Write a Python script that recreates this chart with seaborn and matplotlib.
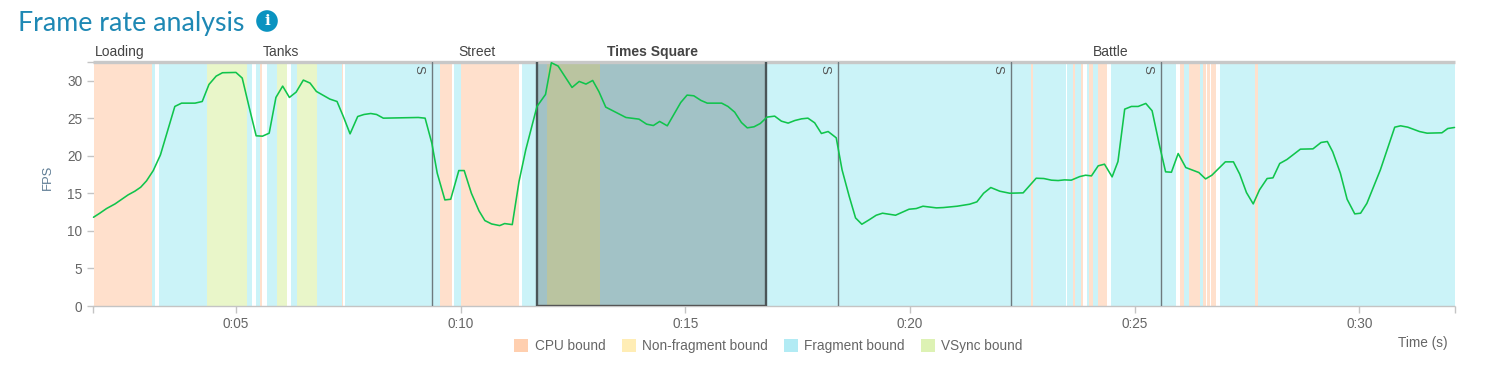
import matplotlib
matplotlib.use("Agg")
import matplotlib.pyplot as plt
import pandas as pd
import seaborn as sns
from matplotlib.patches import Circle, Patch
from matplotlib.transforms import IdentityTransform

# frame rate curve
time_s = [1.83, 1.97, 2.12, 2.31, 2.46, 2.60, 2.75, 2.88, 3.01, 3.16, 3.32, 3.48, 3.64, 3.79, 4.09, 4.25,
          4.40, 4.56, 4.70, 5.00, 5.14, 5.29, 5.45, 5.59, 5.74, 5.89, 6.04, 6.19, 6.34, 6.50, 6.65, 6.79,
          7.09, 7.25, 7.39, 7.54, 7.71, 7.85, 8.00, 8.13, 8.28, 9.06, 9.21, 9.36, 9.48, 9.65, 9.78, 9.96,
          10.08, 10.24, 10.41, 10.54, 10.69, 10.87, 10.98, 11.15, 11.30, 11.45, 11.70, 11.89, 12.02, 12.17,
          12.48, 12.64, 12.79, 12.94, 13.08, 13.23, 13.68, 13.97, 14.14, 14.29, 14.43, 14.60, 14.90, 15.04,
          15.19, 15.35, 15.49, 15.81, 15.95, 16.10, 16.25, 16.38, 16.53, 16.67, 16.82, 16.99, 17.14, 17.29,
          17.44, 17.59, 17.73, 17.88, 18.03, 18.18, 18.36, 18.49, 18.65, 18.79, 18.93, 19.09, 19.25, 19.39,
          19.68, 19.98, 20.14, 20.29, 20.59, 20.74, 21.05, 21.33, 21.49, 21.64, 21.80, 22.00, 22.22, 22.52,
          22.81, 22.98, 23.15, 23.30, 23.44, 23.59, 23.78, 23.91, 24.04, 24.19, 24.33, 24.50, 24.63, 24.78,
          24.93, 25.08, 25.25, 25.39, 25.56, 25.69, 25.82, 25.97, 26.14, 26.43, 26.58, 26.72, 27.02, 27.20,
          27.34, 27.49, 27.64, 27.78, 27.95, 28.08, 28.23, 28.39, 28.69, 28.97, 29.15, 29.29, 29.41, 29.58,
          29.73, 29.90, 30.03, 30.17, 30.47, 30.79, 30.92, 31.08, 31.34, 31.51, 31.84, 31.97, 32.12]
fps = [11.82, 12.36, 12.98, 13.60, 14.22, 14.80, 15.29, 15.82, 16.67, 18.04, 20.13, 23.38, 26.58, 27.02, 27.02, 27.24,
       29.51, 30.62, 31.07, 31.11, 30.36, 26.58, 22.67, 22.62, 23.02, 27.78, 29.29, 27.78, 28.49, 30.09, 29.69, 28.58,
       27.56, 27.24, 25.24, 22.93, 25.24, 25.51, 25.64, 25.51, 25.02, 25.11, 25.02, 21.69, 17.69, 14.13, 14.22, 18.04,
       18.04, 15.02, 12.67, 11.38, 10.93, 10.71, 10.98, 10.84, 16.58, 20.80, 26.58, 28.18, 32.40, 31.96,
       29.11, 29.91, 29.56, 30.04, 28.53, 26.49, 25.11, 24.89, 24.22, 24.04, 24.58, 24.00, 27.11, 28.09,
       28.00, 27.38, 27.02, 27.02, 26.58, 25.82, 24.44, 23.73, 23.87, 24.31, 25.16, 25.29, 24.62, 24.36,
       24.71, 24.93, 25.02, 24.40, 22.98, 23.24, 22.40, 18.13, 14.58, 11.73, 10.89, 11.47, 12.09, 12.36,
       12.09, 12.89, 12.98, 13.29, 13.07, 13.11, 13.29, 13.56, 13.87, 15.02, 15.78, 15.29, 15.02, 15.07,
       17.02, 16.98, 16.76, 16.71, 16.80, 16.76, 17.24, 17.42, 17.33, 18.67, 18.89, 17.20, 19.24, 26.22,
       26.58, 26.58, 26.98, 26.00, 21.24, 17.87, 17.82, 20.31, 18.44, 17.78, 16.93, 17.42, 19.20, 19.20,
       17.56, 15.11, 13.60, 15.47, 16.98, 17.07, 18.98, 19.51, 20.89, 20.93, 21.78, 21.91, 20.53, 17.69,
       14.22, 12.27, 12.36, 13.67, 18.13, 23.82, 24.00, 23.82, 23.24, 23.02, 23.07, 23.64, 23.78]

# bound state spans (seconds), gaps between them stay white
cpu_spans = [(1.83, 3.14), (5.53, 5.59), (7.36, 7.39), (9.54, 9.81), (10.00, 11.30), (22.69, 22.75), (23.64, 23.67),
             (23.81, 23.86), (23.99, 24.08), (24.19, 24.38), (26.02, 26.10), (26.22, 26.45), (26.52, 26.58),
             (26.61, 26.67), (26.71, 26.82), (27.69, 27.75)]
fragment_spans = [(3.14, 3.20), (3.29, 4.36), (5.25, 5.36), (5.44, 5.53), (5.70, 5.92), (6.22, 6.36), (6.81, 7.36),
                  (7.42, 9.54), (9.85, 10.00), (11.36, 11.93), (13.10, 22.69), (22.75, 23.47), (23.50, 23.64),
                  (23.67, 23.81), (23.93, 23.99), (24.08, 24.19), (24.47, 25.93), (26.10, 26.22), (26.45, 26.52),
                  (26.90, 27.69), (27.75, 32.12)]
vsync_spans = [(4.36, 5.25), (5.92, 6.14), (6.36, 6.81), (11.93, 13.10)]

section_names = ["Loading", "Tanks", "Street", "Times Square", "Battle"]
section_pos = [2.42, 6.00, 10.36, 14.28, 24.47]
session_marks = [9.37, 18.40, 22.24, 25.58]
selected = (11.71, 16.79)

x_ticks = [1.83, 5, 10, 15, 20, 25, 30, 32.12]
x_labels = ["", "0:05", "0:10", "0:15", "0:20", "0:25", "0:30", ""]
y_ticks = [0, 5, 10, 15, 20, 25, 30]

legend_names = ["CPU bound", "Non-fragment bound", "Fragment bound", "VSync bound"]
legend_colors = ["#FFCFAF", "#FFEDB5", "#B2EBF4", "#DDF2B4"]

sns.set_style("white")
plt.rcParams["font.family"] = ["Liberation Sans", "DejaVu Sans"]
grey_text = "#666666"
axis_grey = "#C4C4C4"

W, H = 1490, 373
fig = plt.figure(figsize=(W / 100, H / 100), dpi=100)
ax = fig.add_axes([93.5 / W, 1 - 306 / H, 1361 / W, 244 / H])

for a, b in cpu_spans:
    ax.axvspan(a, b, color="#FFE0CC", lw=0, zorder=1)
for a, b in fragment_spans:
    ax.axvspan(a, b, color="#CBF3F8", lw=0, zorder=1)
for a, b in vsync_spans:
    ax.axvspan(a, b, color="#E9F6C9", lw=0, zorder=1)

# selected section overlay
ax.axvspan(selected[0], selected[1], color="black", alpha=0.2, lw=0, zorder=2)
for x in selected:
    ax.axvline(x, color="#4A5558", lw=1.7, zorder=3)
ax.hlines(0.1, selected[0], selected[1], color="#555555", lw=1, zorder=3)

for x in session_marks:
    ax.axvline(x, color="#6E7A7E", lw=1.0, zorder=3)
    ax.text(x - 0.30, 31.5, "S", rotation=270, ha="center", va="center", fontsize=9.5, color="#555555", zorder=5)

df = pd.DataFrame({"time": time_s, "fps": fps})
sns.lineplot(data=df, x="time", y="fps", color="#10C44C", lw=1.15, ax=ax, zorder=4, clip_on=False, errorbar=None)

ax.set_xlim(1.83, 32.12)
ax.set_ylim(0, 32.5)
ax.set_xticks(x_ticks, x_labels)
ax.set_yticks(y_ticks)
ax.set_yticks([32.5], minor=True)
ax.tick_params(axis="both", which="both", length=5.2, width=1, color=axis_grey, labelcolor=grey_text, labelsize=9.8,
               bottom=True, left=True)
ax.tick_params(axis="x", pad=2.5)
ax.tick_params(axis="y", pad=2.8)
ax.set_xlabel("")
ax.set_ylabel("")
sns.despine(ax=ax, left=True, right=True, top=False)
ax.spines["top"].set_color("#C8C8C8")
ax.spines["top"].set_linewidth(2.4)
ax.spines["top"].set_capstyle("butt")
ax.spines["bottom"].set_color(axis_grey)
ax.spines["bottom"].set_linewidth(1)
ax.spines["bottom"].set_capstyle("butt")

for name, pos in zip(section_names, section_pos):
    bold = name == "Times Square"
    ax.text(pos, 32.9, name, ha="center", va="bottom", fontsize=10, color="#444444",
            fontweight="bold" if bold else "normal")

fig.text(48 / W, 1 - 177 / H, "FPS", rotation=90, ha="center", va="center", fontsize=9.4, color="#5E7C94")
fig.text(1448 / W, 1 - 343 / H, "Time (s)", ha="right", va="center", fontsize=9.8, color=grey_text)

# title and info badge
fig.text(18 / W, 1 - 23.5 / H, "Frame rate analysis", family="Lato", fontsize=19.3, color="#1E88B4", ha="left", va="center")
fig.add_artist(Circle((267, H - 21), 10.8, color="#0A93C0", lw=0, transform=IdentityTransform()))
fig.text(267 / W, 1 - 21 / H, "i", fontsize=11, fontweight="bold", color="white", ha="center", va="center",
         family="DejaVu Serif")

handles = [Patch(color=c, lw=0) for c in legend_colors]
fig.legend(handles, legend_names, loc="center", bbox_to_anchor=(768.5 / W, 1 - 346 / H), ncol=4, frameon=False,
           fontsize=9.8, labelcolor=grey_text, handlelength=1.04, handleheight=1.04, handletextpad=0.45,
           columnspacing=1.2, borderpad=0, borderaxespad=0)

fig.savefig("out.png", dpi=100)
